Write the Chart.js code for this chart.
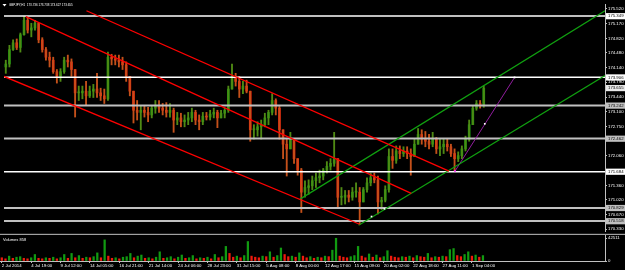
<!DOCTYPE html>
<html><head><meta charset="utf-8">
<script src="https://cdn.jsdelivr.net/npm/chart.js@4/dist/chart.umd.min.js"></script>
<style>
html,body{margin:0;padding:0;background:#000;overflow:hidden}
#wrap{position:relative;width:625px;height:270px;background:#000}
canvas{display:block;position:absolute;left:0}
</style></head><body>
<div id="wrap">
<canvas id="main" width="625" height="235" style="top:0"></canvas>
<canvas id="vol" width="625" height="35" style="top:235px"></canvas>
</div>
<script>
// ---------------- DATA ----------------
const symbolTitle = 'GBPJPY,H1  173.736 173.738 173.627 173.655';
const volumeTitle = 'Volumes 858';
const dateLabels = ['2 Jul 2014','4 Jul 19:00','9 Jul 12:00','14 Jul 05:00','16 Jul 21:00','21 Jul 14:00','24 Jul 06:00','28 Jul 23:00','31 Jul 15:00','5 Aug 08:00','8 Aug 00:00','12 Aug 17:00','15 Aug 09:00','20 Aug 02:00','22 Aug 18:00','27 Aug 11:00','1 Sep 04:00'];
const dateIndex = [0,8,16,24,32,40,48,56,64,72,80,88,96,104,112,120,128];
const firstOpen = 174.15;
const highs = [174.31,174.66,174.79,174.81,174.95,175.34,175.32,175.18,175.25,175.18,
 174.84,174.61,174.50,174.38,174.09,174.11,174.38,174.43,174.34,174.09,
 173.70,173.70,173.81,173.70,173.74,174.00,173.65,173.63,174.50,174.45,
 174.43,174.43,174.38,174.27,173.93,173.58,173.36,173.24,173.24,173.20,
 173.24,173.36,173.36,173.29,173.31,173.29,173.18,173.08,173.06,173.02,
 173.08,173.18,173.13,173.02,173.08,173.08,173.13,173.18,173.13,173.13,
 173.18,173.70,174.22,174.00,173.93,173.81,173.84,173.58,172.79,172.86,
 172.90,173.06,173.13,173.52,173.40,173.24,172.67,172.45,172.61,172.45,
 171.99,171.76,171.47,171.49,171.58,171.65,171.72,171.76,171.92,171.99,
 172.61,171.99,171.31,171.24,171.24,171.31,171.42,171.31,171.31,171.54,
 171.65,171.65,171.58,171.08,171.35,172.22,172.22,172.29,172.29,172.27,
 172.27,172.22,172.45,172.70,172.67,172.63,172.56,172.61,172.49,172.45,
 172.45,172.45,172.33,172.22,172.15,172.29,172.52,172.90,173.24,173.36,
 173.36,173.70];
const lows = [174.00,174.15,174.54,174.56,174.50,174.90,174.95,174.86,175.02,174.72,
 174.50,174.31,174.15,174.00,173.77,173.81,174.00,174.15,173.93,172.97,
 173.36,173.40,173.24,173.43,173.43,173.43,173.36,173.29,173.36,174.20,
 174.20,174.15,174.09,173.81,173.47,172.83,172.90,172.67,172.97,172.86,
 172.95,173.06,173.08,173.02,172.97,172.97,172.61,172.79,172.74,172.74,
 172.79,172.86,172.79,172.67,172.79,172.90,172.90,172.95,172.72,172.95,
 172.95,173.08,173.63,173.70,173.43,173.52,173.54,172.40,172.45,172.52,
 172.45,172.74,172.79,173.02,173.02,172.45,171.99,171.58,172.22,171.88,
 171.60,170.72,171.08,171.15,171.26,171.31,171.42,171.49,171.65,171.72,
 171.81,170.85,170.90,170.92,170.97,171.01,171.08,170.44,170.97,171.20,
 171.35,171.42,170.69,170.79,170.97,171.20,171.76,171.88,171.99,172.04,
 171.99,171.60,172.04,172.33,172.33,172.27,172.22,172.27,172.11,172.06,
 172.11,172.17,172.04,171.70,171.92,171.99,172.17,172.40,172.79,173.13,
 173.18,173.20];
const closes = [174.22,174.56,174.72,174.61,174.91,175.25,175.02,175.07,175.18,174.79,
 174.56,174.38,174.31,174.04,173.93,174.04,174.31,174.27,174.09,173.54,
 173.54,173.58,173.47,173.58,173.63,173.54,173.47,173.40,174.38,174.34,
 174.31,174.27,174.20,173.93,173.58,173.13,173.08,173.13,173.08,173.02,
 173.18,173.24,173.18,173.13,173.08,173.13,172.90,172.95,172.86,172.90,
 172.95,173.08,172.90,172.86,172.99,172.97,173.04,173.08,172.95,173.06,
 173.13,173.63,173.93,173.81,173.63,173.70,173.58,172.67,172.67,172.74,
 172.79,172.95,173.08,173.36,173.18,172.67,172.33,172.22,172.45,171.99,
 171.72,171.20,171.31,171.35,171.47,171.54,171.58,171.72,171.81,171.88,
 171.99,171.08,171.08,171.13,171.08,171.20,171.20,170.97,171.26,171.42,
 171.54,171.49,170.97,171.01,171.26,172.04,171.95,172.17,172.11,172.17,
 172.11,172.04,172.33,172.56,172.45,172.40,172.33,172.45,172.22,172.27,
 172.33,172.27,172.11,171.99,172.06,172.22,172.45,172.79,173.18,173.29,
 173.24,173.65];
const volumes = [6000,4000,9000,5000,7000,8000,5000,4000,6000,12000,
 5000,4000,6000,5000,7000,4000,6000,12000,5000,14000,
 6000,10000,5000,7000,6000,8000,15000,6000,39000,9000,
 5000,6000,4000,7000,8000,14000,6000,9000,11000,5000,
 6000,4000,7000,17000,5000,6000,8000,4000,7000,11000,
 5000,6000,10000,4000,6000,5000,7000,4000,12000,6000,
 8000,27000,14000,7000,9000,6000,10000,36000,9000,7000,
 6000,9000,8000,17000,7000,10000,24000,12000,8000,9000,
 7000,15000,9000,6000,8000,5000,7000,6000,9000,8000,
 20000,42000,9000,7000,6000,8000,10000,27000,9000,6000,
 13000,7000,11000,6000,8000,19000,9000,7000,6000,8000,
 7000,9000,6000,10000,8000,7000,14000,6000,8000,7000,
 9000,8000,21000,23000,10000,8000,12000,17000,9000,11000,
 7000,10000];
const priceTicks = [175.520,175.170,174.820,174.480,174.140,173.790,173.440,173.100,172.750,172.060,171.360,171.020,170.670,170.330];
const levelPrices = [175.349,173.906,173.242,172.462,171.684,170.829,170.518];
const levelIsWhite = [true,true,false,false,true,false,false];
const lastPrice = 173.655;
const volumeTicks = [0,42511];
// trend objects: [bar index, price]
const redUpper  = [[22.11,175.475],[121.48,171.696]];
const redMiddle = [[5.50,175.338],[111.13,171.172]];
const redLower  = [[-0.49,173.927],[96.98,170.444]];
const greenUpper = [[80.64,171.036],[164.23,175.475]];
const greenLower = [[96.71,170.421],[164.23,173.949]];
const purpleLine = [[123.11,171.696],[139.45,173.904]];
const anchorPoints = [[100.24,170.626],[103.78,170.808],[131.28,172.811],[139.45,173.904]];

// ---------------- SETUP ----------------
const X_MIN = -0.49, X_MAX = 164.23;
const Y_MIN = 170.285, Y_MAX = 175.634;
const VOL_MAX = 48056;
const FONT = '"Liberation Sans", Arial, sans-serif';
const UP = '#119a11', DOWN = '#f01a0c';
const WICK_UP = '#4f8a14', WICK_DOWN = '#c4501a';
const SILVER = '#c0c0c0';

const opens = closes.map((c,i)=> i===0 ? firstOpen : closes[i-1]);
const isUp = closes.map((c,i)=> c >= opens[i]);
const candleColors = isUp.map(u=> u ? UP : DOWN);
const wickColors = isUp.map(u=> u ? WICK_UP : WICK_DOWN);
const pts = arr => arr.map(p=>({x:p[0], y:p[1]}));

function lineDs(data, color, width, extra){
  return Object.assign({type:'line', data:data, borderColor:color, borderWidth:width,
    pointRadius:0, fill:false, tension:0, order:1}, extra||{});
}

const datasets = [];
levelPrices.forEach((p,i)=>{
  datasets.push(lineDs([{x:X_MIN,y:p},{x:X_MAX,y:p}], levelIsWhite[i]?'#ffffff':SILVER, levelIsWhite[i]?1.5:2, {order:2}));
});
datasets.push(lineDs(pts(redUpper), '#ff0000', 1.3));
datasets.push(lineDs(pts(redMiddle), '#ff0000', 1.3));
datasets.push(lineDs(pts(redLower), '#ff0000', 1.3));
datasets.push(lineDs(pts(greenUpper), '#10a010', 1.2));
datasets.push(lineDs(pts(greenLower), '#10a010', 1.2));
datasets.push(lineDs(pts(purpleLine), '#a020b0', 0.9));
datasets.push({type:'line', data:pts(anchorPoints), showLine:false, pointStyle:'rect',
  pointRadius:1.2, pointBackgroundColor:'#ffffff', pointBorderWidth:0, order:0});
datasets.push({type:'line', data:[pts(purpleLine)[0]], showLine:false, pointStyle:'rect',
  pointRadius:1.2, pointBackgroundColor:'#ff40ff', pointBorderWidth:0, order:0});
// candles
datasets.push({type:'bar', data: highs.map((h,i)=>({x:i, y:[lows[i], h]})),
  backgroundColor:wickColors, barThickness:1.2, grouped:false, order:10, borderWidth:0});
datasets.push({type:'bar', data: opens.map((o,i)=>({x:i, y:[o, closes[i]]})),
  backgroundColor:candleColors, barThickness:2, minBarLength:1, grouped:false, order:11, borderWidth:0});

const bgPlugin = {id:'bg', beforeDraw(c){const x=c.ctx; x.save(); x.fillStyle='#000'; x.fillRect(0,0,c.width,c.height); x.restore();}};

const overlay = {id:'overlay', afterDraw(c){
  const ctx=c.ctx, ys=c.scales.y;
  ctx.save();
  ctx.fillStyle='#fff';
  ctx.beginPath(); ctx.moveTo(2.5,4); ctx.lineTo(6.5,4); ctx.lineTo(4.5,6.5); ctx.closePath(); ctx.fill();
  ctx.font='3px '+FONT; ctx.textBaseline='middle'; ctx.textAlign='left';
  ctx.fillText(symbolTitle, 9, 5.2);
  ctx.font='4.3px '+FONT;
  const box=(v,bg)=>{const y=ys.getPixelForValue(v); ctx.fillStyle=bg; ctx.fillRect(606,y-3,19,6.2);
    ctx.fillStyle='#000'; ctx.fillText(v.toFixed(3),608,y+0.2);};
  levelPrices.forEach((p,i)=>box(p, levelIsWhite[i]?'#ffffff':SILVER));
  box(lastPrice,'#e8e8e8');
  ctx.fillStyle='#a0a0a0'; ctx.fillRect(0,c.height-1.2,625,1.2);
  ctx.restore();
}};

new Chart(document.getElementById('main'), {
  type:'bar',
  data:{datasets},
  options:{
    responsive:false, animation:false, events:[],
    layout:{padding:0},
    plugins:{legend:{display:false}, tooltip:{enabled:false}},
    scales:{
      x:{type:'linear', min:X_MIN, max:X_MAX, offset:false, display:false},
      y:{type:'linear', position:'right', min:Y_MIN, max:Y_MAX,
         afterBuildTicks(s){ s.ticks = priceTicks.map(v=>({value:v})); },
         afterFit(s){ s.width=20; s.paddingTop=0; s.paddingBottom=0; },
         ticks:{color:'#ffffff', font:{size:4.3, family:FONT}, padding:1, autoSkip:false,
                callback:v=>Number(v).toFixed(3)},
         grid:{drawOnChartArea:false, drawTicks:true, tickLength:2, color:SILVER},
         border:{display:true, color:SILVER, width:1}}
    }
  },
  plugins:[bgPlugin, overlay]
});

// ---------------- VOLUME ----------------
const volColors = volumes.map((v,i)=> i>0 && v>volumes[i-1] ? UP : DOWN);
const volOverlay = {id:'volov', afterDraw(c){
  const ctx=c.ctx; ctx.save(); ctx.fillStyle='#fff'; ctx.font='4px '+FONT;
  ctx.textBaseline='middle'; ctx.fillText(volumeTitle, 3, 4.5); ctx.restore();
}};
new Chart(document.getElementById('vol'), {
  type:'bar',
  data:{datasets:[{data: volumes.map((v,i)=>({x:i,y:v})), backgroundColor:volColors,
    barThickness:1.6, borderWidth:0}]},
  options:{
    responsive:false, animation:false, events:[],
    layout:{padding:0},
    plugins:{legend:{display:false}, tooltip:{enabled:false}},
    scales:{
      x:{type:'linear', min:X_MIN, max:X_MAX, offset:false, position:'bottom',
         afterBuildTicks(s){ s.ticks = dateIndex.map(v=>({value:v})); },
         afterFit(s){ s.height=9; s.paddingLeft=0; s.paddingRight=0; },
         ticks:{color:'#ffffff', font:{size:4.3, family:FONT}, padding:0.5, autoSkip:false,
                maxRotation:0, minRotation:0, align:'start',
                callback:v=>{const k=dateIndex.indexOf(v); return k>=0?dateLabels[k]:'';}},
         grid:{drawOnChartArea:false, drawTicks:true, tickLength:2, color:SILVER, offset:false},
         border:{display:true, color:SILVER, width:1}},
      y:{type:'linear', position:'right', min:0, max:VOL_MAX,
         afterBuildTicks(s){ s.ticks = volumeTicks.map(v=>({value:v})); },
         afterFit(s){ s.width=20; s.paddingTop=0; s.paddingBottom=0; },
         ticks:{color:'#ffffff', font:{size:4.3, family:FONT}, padding:1, autoSkip:false,
                callback:v=>String(v)},
         grid:{drawOnChartArea:false, drawTicks:true, tickLength:2, color:SILVER},
         border:{display:true, color:SILVER, width:1}}
    }
  },
  plugins:[bgPlugin, volOverlay]
});
</script>
</body></html>
